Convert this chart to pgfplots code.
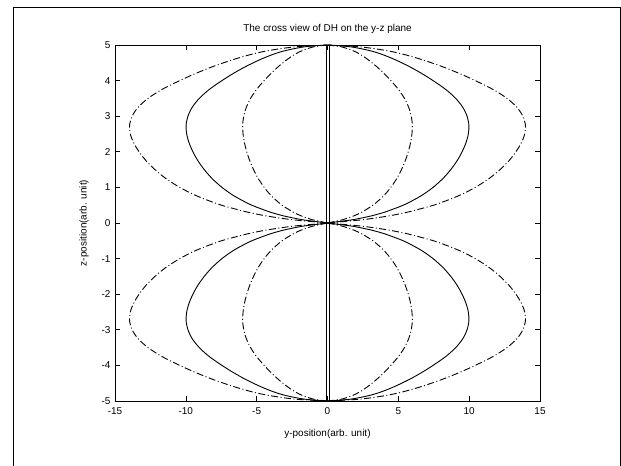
\documentclass[border=0pt]{standalone}
\usepackage{pgfplots}
\pgfplotsset{compat=1.18}
\usepackage{pgfplotstable}
\usepackage{fontspec}
\setmainfont{Liberation Sans}

% z, outer dash-dot, solid, inner dash-dot (half-widths of the upper lobes)
\pgfplotstableread{
z    yo     ys    yi
0    0      0     0
0.05 1.40   1.00  0.60
0.10 2.66   1.90  1.14
0.20 4.34   3.10  1.86
0.30 5.60   4.00  2.40
0.40 6.58   4.70  2.82
0.50 7.49   5.35  3.21
0.65 8.54   6.10  3.66
0.80 9.45   6.75  4.05
1.00 10.43  7.45  4.47
1.25 11.41  8.15  4.89
1.50 12.18  8.70  5.22
1.75 12.81  9.15  5.49
2.00 13.30  9.50  5.70
2.25 13.68  9.77  5.86
2.50 13.92  9.94  5.96
2.75 13.97  9.98  5.99
3.00 13.79  9.85  5.91
3.25 13.37  9.55  5.73
3.50 12.67  9.05  5.43
3.75 11.69  8.35  5.01
4.00 10.43  7.45  4.47
4.20 9.31   6.65  3.99
4.40 8.05   5.75  3.45
4.60 6.58   4.70  2.82
4.75 5.25   3.75  2.25
4.85 4.06   2.90  1.74
4.95 2.24   1.60  0.96
5.00 0      0     0
}\lobes

\begin{document}
\begin{tikzpicture}[x=1bp,y=1bp]
\path[use as bounding box] (0,0) rectangle (621,466);
\draw[line width=1bp] (13,0) -- (13,458) -- (620,458) -- (620,0);
\begin{axis}[
  at={(115bp,65bp)}, anchor=south west,
  scale only axis, width=425bp, height=356bp,
  xmin=-15, xmax=15, ymin=-5, ymax=5,
  xtick={-15,-10,-5,0,5,10,15},
  xticklabels={-15,-10,-5,0,5,10,15},
  ytick={-5,-4,-3,-2,-1,0,1,2,3,4,5},
  yticklabels={-5,-4,-3,-2,-1,0,1,2,3,4,5},
  tick align=inside, major tick length=5bp,
  tick style={line width=0.6bp, black},
  axis line style={line width=0.8bp},
  font=\fontsize{10}{12}\selectfont,
  title={The cross view of DH on the y-z plane},
  title style={at={(axis description cs:0.5,1)}, anchor=center, yshift=10bp},
  xlabel={y-position(arb. unit)},
  xlabel style={at={(axis description cs:0.5,0)}, anchor=center, yshift=-33bp},
  ylabel={z-position(arb. unit)},
  ylabel style={at={(axis description cs:-0.073,0.5)}, anchor=center},
  xticklabel style={yshift=-3bp},
  yticklabel style={xshift=-1bp},
  clip=true,
]
\pgfplotsset{
  dd/.style={black, line width=0.9bp, smooth, dash pattern=on 7bp off 2.5bp on 1bp off 2.5bp},
  so/.style={black, line width=0.9bp, smooth},
}
% outer dash-dot
\addplot[dd] table[x=yo, y=z] {\lobes};
\addplot[dd] table[x expr=-\thisrow{yo}, y=z] {\lobes};
\addplot[dd] table[x=yo, y expr=-\thisrow{z}] {\lobes};
\addplot[dd] table[x expr=-\thisrow{yo}, y expr=-\thisrow{z}] {\lobes};
% solid
\addplot[so] table[x=ys, y=z] {\lobes};
\addplot[so] table[x expr=-\thisrow{ys}, y=z] {\lobes};
\addplot[so] table[x=ys, y expr=-\thisrow{z}] {\lobes};
\addplot[so] table[x expr=-\thisrow{ys}, y expr=-\thisrow{z}] {\lobes};
% inner dash-dot
\addplot[dd] table[x=yi, y=z] {\lobes};
\addplot[dd] table[x expr=-\thisrow{yi}, y=z] {\lobes};
\addplot[dd] table[x=yi, y expr=-\thisrow{z}] {\lobes};
\addplot[dd] table[x expr=-\thisrow{yi}, y expr=-\thisrow{z}] {\lobes};
% central thin lobe
\addplot[black, line width=1.1bp] coordinates {(-0.08,-5) (-0.08,5)};
\addplot[black, line width=1.1bp] coordinates {(0.12,-5) (0.12,5)};
\end{axis}
\end{tikzpicture}
\end{document}
